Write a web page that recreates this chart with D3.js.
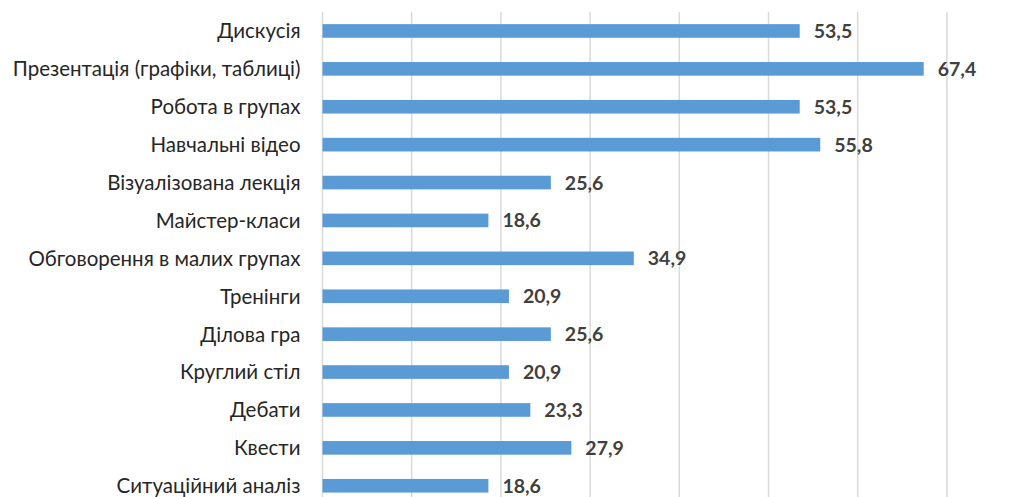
<!DOCTYPE html>
<html lang="uk">
<head>
  <meta charset="UTF-8">
  <title>Методи навчання</title>
  <style>
    body {
      margin: 0;
      padding: 0;
      background-color: white;
    }
    #chart svg {
      display: block;
    }
    .grid line {
      stroke: #d9d9d9;
      stroke-width: 1.5px;
    }
    .bar {
      fill: #5b9bd5;
    }
    .cat-label {
      font-family: Lato, "Open Sans", sans-serif;
      font-size: 20.5px;
      fill: #262626;
    }
    .value-label {
      font-family: Lato, "Open Sans", sans-serif;
      font-size: 19.5px;
      font-weight: bold;
      fill: #404040;
    }
  </style>
</head>
<body>
  <div id="chart"></div>

  <script src="https://d3js.org/d3.v7.min.js"></script>
  <script>
    var categories = [
      "Дискусія",
      "Презентація (графіки, таблиці)",
      "Робота в групах",
      "Навчальні відео",
      "Візуалізована лекція",
      "Майстер-класи",
      "Обговорення в малих групах",
      "Тренінги",
      "Ділова гра",
      "Круглий стіл",
      "Дебати",
      "Квести",
      "Ситуаційний аналіз"
    ];
    var values = [53.5, 67.4, 53.5, 55.8, 25.6, 18.6, 34.9, 20.9, 25.6, 20.9, 23.3, 27.9, 18.6];
    var gridTicks = [0, 10, 20, 30, 40, 50, 60, 70];

    var width = 1030, height = 497;
    var margin = {top: 12, left: 322.5};
    var plotWidth = 713.6;       // 0..80 range, right part falls off the picture
    var plotHeight = 492.7;

    var svg = d3.select("#chart").append("svg")
                .attr("width", width)
                .attr("height", height);

    var g = svg.append("g")
               .attr("transform", "translate(" + margin.left + "," + margin.top + ")");

    var x = d3.scaleLinear()
              .domain([0, 80])
              .range([0, plotWidth]);

    var y = d3.scaleBand()
              .domain(categories)
              .range([0, plotHeight])
              .paddingInner(0.64)
              .paddingOuter(0.32);

    // vertical gridlines
    g.append("g")
     .attr("class", "grid")
     .selectAll("line")
     .data(gridTicks)
     .enter().append("line")
     .attr("x1", function(d) { return x(d); })
     .attr("x2", function(d) { return x(d); })
     .attr("y1", 0)
     .attr("y2", plotHeight + 10);

    // bars
    g.selectAll(".bar")
     .data(values)
     .enter().append("rect")
     .attr("class", "bar")
     .attr("x", x(0))
     .attr("y", function(d, i) { return y(categories[i]); })
     .attr("width", function(d) { return x(d) - x(0); })
     .attr("height", y.bandwidth());

    // category labels
    g.selectAll(".cat-label")
     .data(categories)
     .enter().append("text")
     .attr("class", "cat-label")
     .attr("x", -22)
     .attr("y", function(d) { return y(d) + y.bandwidth() / 2; })
     .attr("dy", "0.36em")
     .attr("text-anchor", "end")
     .text(function(d) { return d; });

    // value labels
    g.selectAll(".value-label")
     .data(values)
     .enter().append("text")
     .attr("class", "value-label")
     .attr("x", function(d) { return x(d) + 14; })
     .attr("y", function(d, i) { return y(categories[i]) + y.bandwidth() / 2; })
     .attr("dy", "0.36em")
     .text(function(d) { return d.toFixed(1).replace(".", ","); });
  </script>
</body>
</html>
